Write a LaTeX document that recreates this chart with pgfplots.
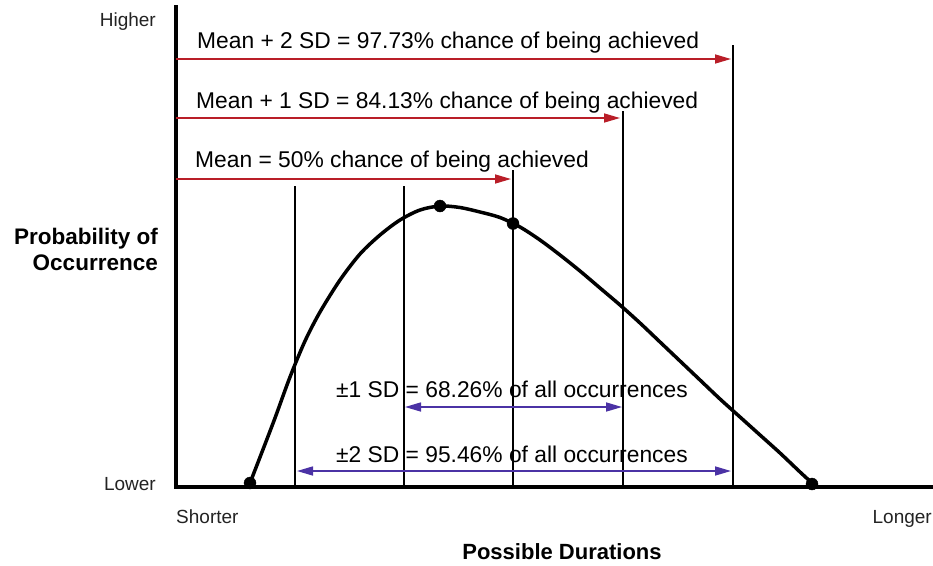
\documentclass[border=0pt]{standalone}
\usepackage{pgfplots}
\pgfplotsset{compat=1.18}
\usepackage{fontspec}
\setmainfont{Liberation Sans}
\usetikzlibrary{arrows.meta}
\definecolor{arrred}{RGB}{185,30,40}
\definecolor{arrblue}{RGB}{75,50,165}
\definecolor{lbl}{RGB}{35,35,35}
\begin{document}
\begin{tikzpicture}
\begin{axis}[
  width=933pt, height=565pt, scale only axis,
  xmin=0, xmax=933, ymin=0, ymax=565, y dir=reverse,
  hide axis, clip=false,
]
\coordinate (bbBL) at (axis cs:0,565);
\coordinate (bbTR) at (axis cs:933,0);
% axes
\addplot[black, line width=4pt] coordinates {(176,5) (176,487) (933,487)};
% vertical reference lines
\addplot[black, line width=1.4pt] coordinates {(295,186) (295,487)};
\addplot[black, line width=1.4pt] coordinates {(404,186) (404,487)};
\addplot[black, line width=1.4pt] coordinates {(513,170) (513,487)};
\addplot[black, line width=1.4pt] coordinates {(623,111) (623,487)};
\addplot[black, line width=1.4pt] coordinates {(733,45) (733,487)};
% curve
\addplot[black, line width=3.5pt, smooth, tension=0.5] coordinates {
 (250,483) (262,452) (275,418) (290,377) (305,341) (320,312) (340,280)
 (360,254) (380,235) (400,220) (420,210) (440,206) (460,207.5) (480,212)
 (500,217.5) (520,227) (540,240) (560,255) (580,271) (600,288) (620,305)
 (640,323) (660,342) (680,361) (700,380) (720,399) (740,417) (760,435)
 (780,453) (800,472) (812,483)};
% dots
\addplot[only marks, mark=*, mark size=6pt, black] coordinates {(250,483) (440,206) (513,223.5) (812,484)};
% red arrows
\addplot[arrred, line width=1.6pt, -{Triangle[length=16pt,width=9pt]}] coordinates {(176,59) (731,59)};
\addplot[arrred, line width=1.6pt, -{Triangle[length=16pt,width=9pt]}] coordinates {(176,118) (620,118)};
\addplot[arrred, line width=1.6pt, -{Triangle[length=16pt,width=9pt]}] coordinates {(176,179) (511,179)};
% blue double arrows
\addplot[arrblue, line width=1.6pt, {Triangle[length=16pt,width=9pt]}-{Triangle[length=16pt,width=9pt]}] coordinates {(405,407) (622,407)};
\addplot[arrblue, line width=1.6pt, {Triangle[length=16pt,width=9pt]}-{Triangle[length=16pt,width=9pt]}] coordinates {(297,471) (731,471)};
% annotation texts
\node[anchor=base west, inner sep=0pt, font=\fontsize{22.8}{26}\selectfont] at (axis cs:197,48) {Mean + 2 SD = 97.73\% chance of being achieved};
\node[anchor=base west, inner sep=0pt, font=\fontsize{22.8}{26}\selectfont] at (axis cs:196,108) {Mean + 1 SD = 84.13\% chance of being achieved};
\node[anchor=base west, inner sep=0pt, font=\fontsize{22.8}{26}\selectfont] at (axis cs:195,167) {Mean = 50\% chance of being achieved};
\node[anchor=base west, inner sep=0pt, font=\fontsize{22.8}{26}\selectfont] at (axis cs:336,397) {±1 SD = 68.26\% of all occurrences};
\node[anchor=base west, inner sep=0pt, font=\fontsize{22.8}{26}\selectfont] at (axis cs:336,462) {±2 SD = 95.46\% of all occurrences};
% axis labels
\node[anchor=base east, inner sep=0pt, text=lbl, font=\fontsize{19}{22}\selectfont] at (axis cs:156,26) {Higher};
\node[anchor=base east, inner sep=0pt, text=lbl, font=\fontsize{19}{22}\selectfont] at (axis cs:156,490) {Lower};
\node[anchor=base west, inner sep=0pt, text=lbl, font=\fontsize{19}{22}\selectfont] at (axis cs:176,523) {Shorter};
\node[anchor=base east, inner sep=0pt, text=lbl, font=\fontsize{19}{22}\selectfont] at (axis cs:932,523) {Longer};
\node[anchor=base east, inner sep=0pt, font=\bfseries\fontsize{22.5}{26}\selectfont] at (axis cs:158,244) {Probability of};
\node[anchor=base east, inner sep=0pt, font=\bfseries\fontsize{22.5}{26}\selectfont] at (axis cs:158,270) {Occurrence};
\node[anchor=base, inner sep=0pt, font=\bfseries\fontsize{22}{26}\selectfont] at (axis cs:562,559) {Possible Durations};
\end{axis}
\pgfresetboundingbox
\path (bbBL) rectangle (bbTR);
\end{tikzpicture}
\end{document}
